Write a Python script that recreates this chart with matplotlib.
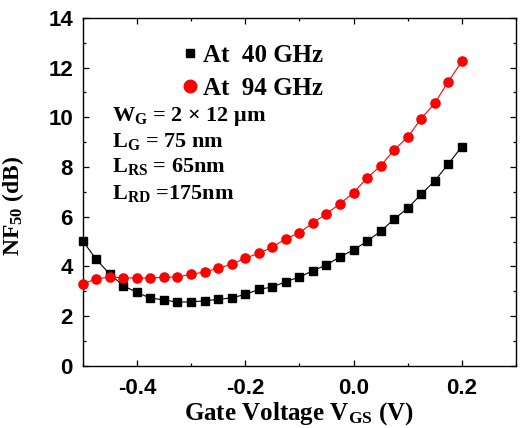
import matplotlib
matplotlib.use("Agg")
import matplotlib.pyplot as plt
from matplotlib.lines import Line2D
from matplotlib.ticker import MultipleLocator
import numpy as np

# ---- data ----
vgs = [-0.5, -0.475, -0.45, -0.425, -0.4, -0.375, -0.35, -0.325, -0.3, -0.275,
       -0.25, -0.225, -0.2, -0.175, -0.15, -0.125, -0.1, -0.075, -0.05, -0.025,
       0.0, 0.025, 0.05, 0.075, 0.1, 0.125, 0.15, 0.175, 0.2]
nf_40 = [5.03, 4.28, 3.69, 3.22, 2.95, 2.72, 2.65, 2.56, 2.57, 2.61,
         2.67, 2.73, 2.87, 3.07, 3.17, 3.38, 3.57, 3.82, 4.06, 4.38,
         4.66, 5.01, 5.41, 5.90, 6.34, 6.90, 7.44, 8.12, 8.82]
nf_94 = [3.29, 3.49, 3.57, 3.54, 3.53, 3.53, 3.56, 3.57, 3.68, 3.77,
         3.93, 4.08, 4.33, 4.52, 4.77, 5.11, 5.35, 5.75, 6.12, 6.52,
         6.96, 7.56, 8.04, 8.69, 9.20, 9.95, 10.57, 11.44, 12.25]
series_labels = ["At  40 GHz", "At  94 GHz"]
x_ticks = [-0.4, -0.2, 0.0, 0.2]
x_ticklabels = ["-0.4", "-0.2", "0.0", "0.2"]
y_ticks = [0, 2, 4, 6, 8, 10, 12, 14]
annotations = [r"W$_{\mathregular{G}}$ = 2 × 12 μm",
               r"L$_{\mathregular{G}}$ = 75 nm",
               r"L$_{\mathregular{RS}}$ = 65nm",
               r"L$_{\mathregular{RD}}$ =175nm"]

plt.rcParams['mathtext.fontset'] = 'custom'
plt.rcParams['mathtext.rm'] = 'Liberation Serif:bold'
plt.rcParams['mathtext.it'] = 'Liberation Serif:bold'
plt.rcParams['mathtext.bf'] = 'Liberation Serif:bold'

serif = dict(family='Liberation Serif', weight='bold')

fig = plt.figure(figsize=(5.23, 4.28), dpi=100)
ax = fig.add_axes([0.1581, 0.1456, 0.8285, 0.8124])

ax.plot(vgs, nf_40, color='black', lw=0.8, marker='s', ms=5.4, clip_on=False, zorder=3)
ax.plot(vgs, nf_94, color='red', lw=0.8, marker='o', ms=6.6, clip_on=False, zorder=3)

ax.set_xlim(-0.5, 0.3)
ax.set_ylim(0, 14)
ax.set_xticks(x_ticks)
ax.set_xticklabels(x_ticklabels)
ax.set_yticks(y_ticks)
ax.xaxis.set_minor_locator(MultipleLocator(0.1))
ax.yaxis.set_minor_locator(MultipleLocator(1))
ax.tick_params(which='both', direction='in', top=True, right=True, width=0.9)
ax.tick_params(which='major', length=4.5, pad=7)
ax.tick_params(which='minor', length=2.5)
ax.tick_params(axis='x', which='major', pad=9)
for lab in ax.get_xticklabels() + ax.get_yticklabels():
    lab.set_fontfamily('Liberation Sans')
    lab.set_fontweight('bold')
    lab.set_fontsize(16)
for s in ax.spines.values():
    s.set_linewidth(1.0)

ax.set_xlabel(r"Gate Voltage V$_{\mathregular{GS}}$ (V)", fontsize=18, labelpad=1, **serif)
ax.set_ylabel(r"NF$_{\mathregular{50}}$ (dB)", fontsize=17, **serif)
ax.yaxis.set_label_coords(-0.13, 0.46)

handles = [Line2D([], [], color='black', marker='s', ms=6, ls='none'),
           Line2D([], [], color='red', marker='o', ms=9, ls='none')]
ax.legend(handles, series_labels, loc='upper left', bbox_to_anchor=(0.228, 0.925),
          frameon=False, prop=dict(family='Liberation Serif', weight='bold', size=18),
          handlelength=0.65, handletextpad=0.2, labelspacing=0.4, borderpad=0, borderaxespad=0)

ys = [0.7046, 0.6298, 0.5579, 0.4786]
for t, yy in zip(annotations, ys):
    ax.text(0.067, yy, t, transform=ax.transAxes, fontsize=16, va='baseline', ha='left', **serif)

fig.savefig("out.png", dpi=100)
